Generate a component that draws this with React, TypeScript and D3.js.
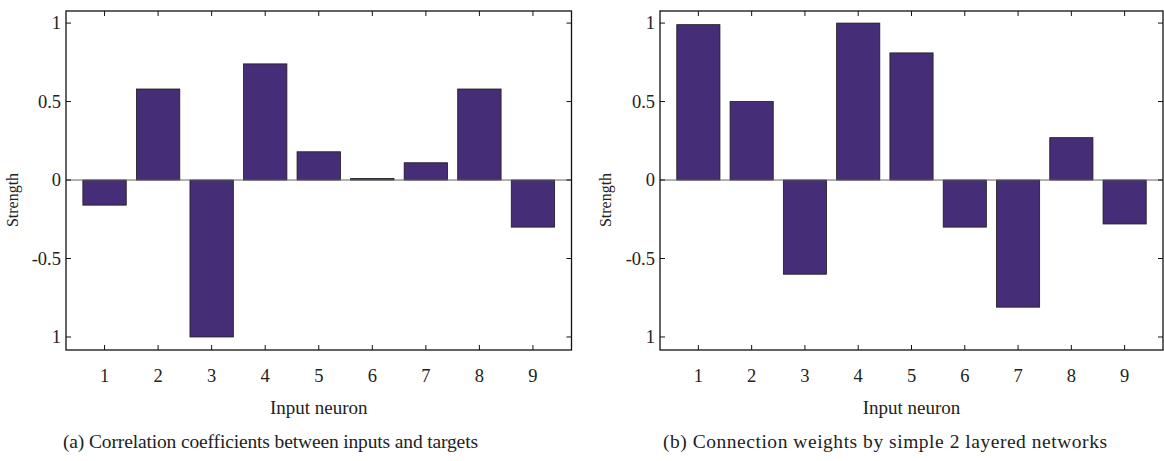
import React from "react";
import * as d3 from "d3";

const neurons = [1, 2, 3, 4, 5, 6, 7, 8, 9];
const correlationValues = [-0.16, 0.58, -1.0, 0.74, 0.18, 0.01, 0.11, 0.58, -0.3];
const weightValues = [0.99, 0.5, -0.6, 1.0, 0.81, -0.3, -0.81, 0.27, -0.28];
const yTickValues = [1, 0.5, 0, -0.5, -1];
const yTickLabels = ["1", "0.5", "0", "-0.5", "1"];
const xLabel = "Input neuron";
const yLabel = "Strength";
const captions = [
  "(a) Correlation coefficients between inputs and targets",
  "(b) Connection weights by simple 2 layered networks",
];

const FONT = "Liberation Serif";
const BAR = "#462d78";
const TOP = 11;
const BOTTOM = 350;

function Panel({ values, left, right, caption, captionX, captionW, labelX }: any) {
  const x = d3.scaleLinear().domain([0.28, 9.72]).range([left, right]);
  const y = d3.scaleLinear().domain([-1.083, 1.077]).range([BOTTOM, TOP]);
  const step = x(2) - x(1);
  const bw = step * 0.81;
  const tl = 5;
  return (
    <g>
      {values.map((v: number, i: number) => (
        <rect
          key={i}
          x={x(neurons[i]) - bw / 2}
          y={y(Math.max(0, v))}
          width={bw}
          height={Math.max(1.5, Math.abs(y(v) - y(0)))}
          fill={BAR}
          stroke="#1a1a1a"
          strokeWidth={0.8}
        />
      ))}
      <line x1={left} x2={right} y1={y(0)} y2={y(0)} stroke="#666" strokeWidth={1} />
      <rect x={left} y={TOP} width={right - left} height={BOTTOM - TOP} fill="none" stroke="#111" strokeWidth={1.3} />
      {neurons.map((n) => (
        <g key={n}>
          <line x1={x(n)} x2={x(n)} y1={BOTTOM} y2={BOTTOM - tl} stroke="#111" strokeWidth={1} />
          <line x1={x(n)} x2={x(n)} y1={TOP} y2={TOP + tl} stroke="#111" strokeWidth={1} />
          <text x={x(n)} y={382} textAnchor="middle" fontFamily={FONT} fontSize={18.5} fill="#222">
            {n}
          </text>
        </g>
      ))}
      {yTickValues.map((t, i) => (
        <g key={t}>
          <line x1={left} x2={left + tl} y1={y(t)} y2={y(t)} stroke="#111" strokeWidth={1} />
          <line x1={right} x2={right - tl} y1={y(t)} y2={y(t)} stroke="#111" strokeWidth={1} />
          <text x={left - 5} y={y(t)} dy="0.33em" textAnchor="end" fontFamily={FONT} fontSize={18.5} fill="#222">
            {yTickLabels[i]}
          </text>
        </g>
      ))}
      <text x={(left + right) / 2} y={414} textAnchor="middle" fontFamily={FONT} fontSize={19} fill="#222">
        {xLabel}
      </text>
      <text
        transform={`translate(${labelX},${200}) rotate(-90)`}
        textAnchor="middle"
        fontFamily={FONT}
        fontSize={16}
        fill="#222"
      >
        {yLabel}
      </text>
      <text
        x={captionX}
        y={448}
        fontFamily={FONT}
        fontSize={19.5}
        fill="#222"
        textLength={captionW}
        lengthAdjust="spacing"
      >
        {caption}
      </text>
    </g>
  );
}

export default function App() {
  return (
    <svg
      width={1164}
      height={461}
      style={{ position: "absolute", left: 0, top: 0, background: "#fff" }}
    >
      <rect width={1164} height={461} fill="#fff" />
      <Panel values={correlationValues} left={66} right={571.5} caption={captions[0]} captionX={63} captionW={415} labelX={18} />
      <Panel values={weightValues} left={660} right={1163} caption={captions[1]} captionX={663} captionW={444} labelX={611} />
    </svg>
  );
}
